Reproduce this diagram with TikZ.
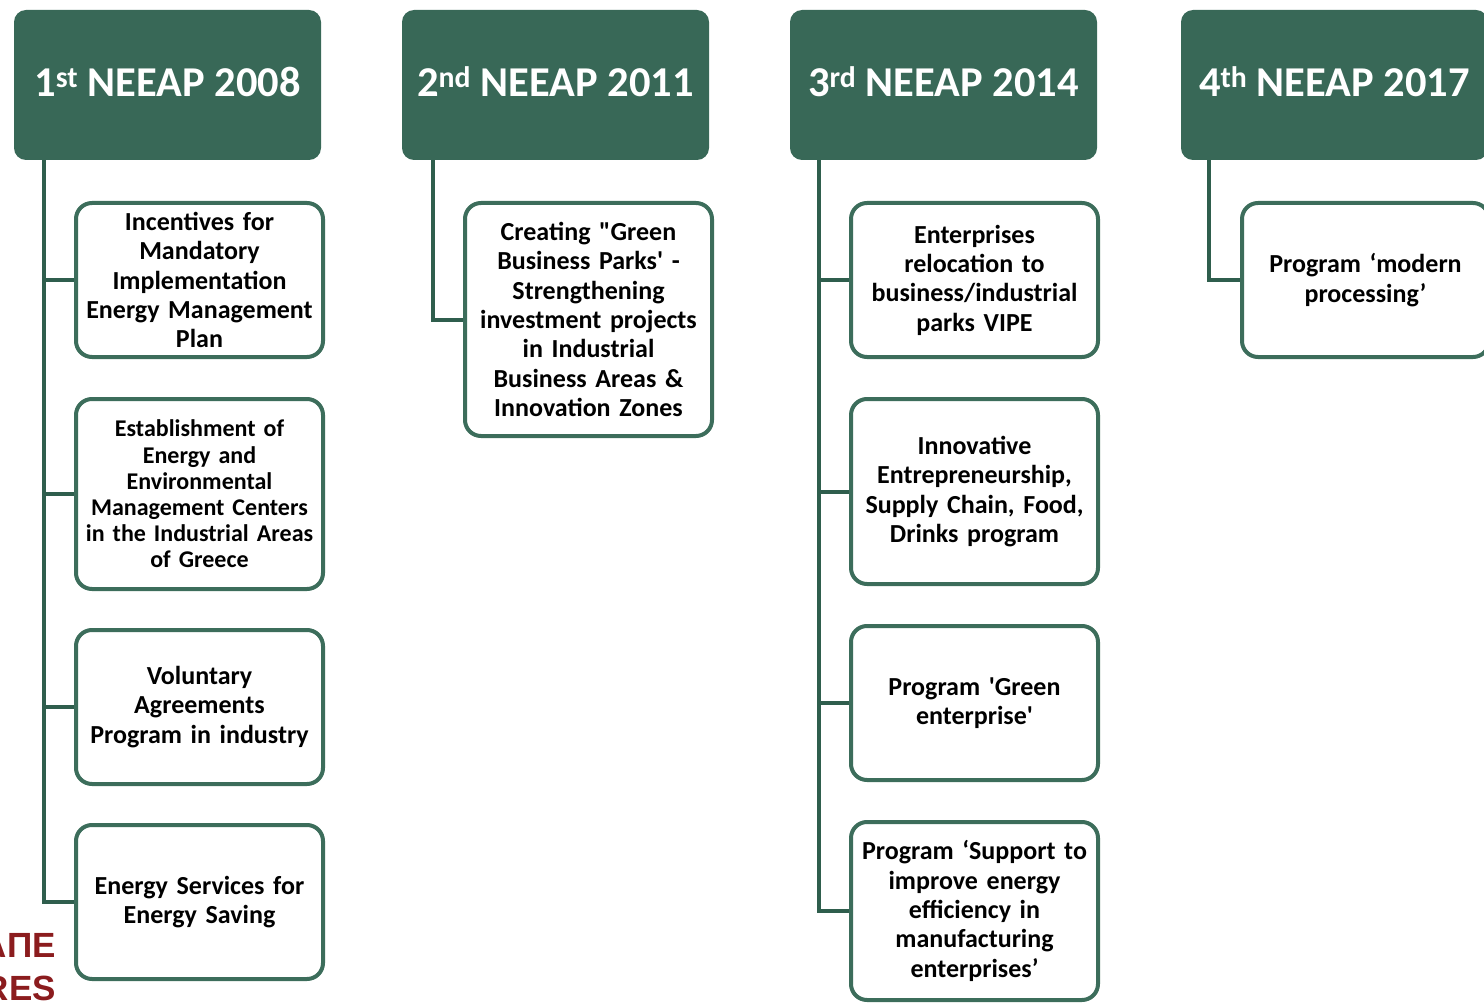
\documentclass[tikz,border=0pt]{standalone}
\usepackage{fontspec}
\setmainfont{Carlito}
\newfontfamily\redfont{Liberation Sans}
\definecolor{hdrfill}{HTML}{386857}
\definecolor{lnclr}{HTML}{2F5E4D}
\definecolor{bxclr}{HTML}{3C6D5B}
\definecolor{resred}{HTML}{8B1C1E}
\begin{document}
\begin{tikzpicture}[x=1pt,y=-1pt,
  hdr/.style={fill=hdrfill,draw=none,rounded corners=12pt,minimum width=307pt,minimum height=150pt,
    text=white,font=\fontsize{42.5}{50}\selectfont\bfseries,inner sep=0pt},
  item/.style={draw=bxclr,line width=4pt,fill=white,rounded corners=16pt,minimum width=247pt,
    text width=244pt,align=center,font=\fontsize{26}{29.3}\selectfont\bfseries,inner sep=0pt},
  small/.style={font=\fontsize{24}{26.2}\selectfont\bfseries},
  conn/.style={draw=lnclr,line width=4pt},
  red/.style={anchor=east,text=resred,font=\redfont\fontsize{35}{40}\selectfont\bfseries,inner sep=0pt}]
\useasboundingbox (0,0) rectangle (1484,1003);
% headers
\node[hdr,text depth=6pt] (h1) at (167.5,85) {1\textsuperscript{st} NEEAP 2008};
\node[hdr,text depth=6pt] (h2) at (555.5,85) {2\textsuperscript{nd} NEEAP 2011};
\node[hdr,text depth=6pt] (h3) at (943.5,85) {3\textsuperscript{rd} NEEAP 2014};
\node[hdr,text depth=6pt] (h4) at (1334.5,85) {4\textsuperscript{th} NEEAP 2017};
% column 1
\node[item,minimum height=154pt] (a1) at (199.5,280) {Incentives for\\Mandatory\\Implementation\\Energy Management\\Plan};
\node[item,small,minimum height=190pt] (a2) at (199.5,494) {Establishment of\\Energy and\\Environmental\\Management Centers\\in the Industrial Areas\\of Greece};
\node[item,minimum height=154pt] (a3) at (199.5,707) {Voluntary\\Agreements\\Program in industry};
\node[item,minimum height=154pt] (a4) at (199.5,902) {Energy Services for\\Energy Saving};
% column 2
\node[item,minimum height=233pt] (b1) at (588.5,319.5) {Creating \textquotedbl Green\\Business Parks\textquotesingle{} -\\Strengthening\\investment projects\\in Industrial\\Business Areas \&\\Innovation Zones};
% column 3
\node[item,minimum height=154pt] (c1) at (974.5,280) {Enterprises\\relocation to\\business/industrial\\parks VIPE};
\node[item,minimum height=185pt] (c2) at (974.5,491.5) {Innovative\\Entrepreneurship,\\Supply Chain, Food,\\Drinks program};
\node[item,minimum height=154pt] (c3) at (974.5,703) {Program \textquotesingle Green\\enterprise\textquotesingle};
\node[item,minimum height=178pt] (c4) at (974.5,911) {Program ‘Support to\\improve energy\\efficiency in\\manufacturing\\enterprises’};
% column 4
\node[item,minimum height=154pt] (d1) at (1365.5,280) {Program ‘modern\\processing’};
% connectors
\draw[conn] (h1.south -| 44,0) |- (a4.west);
\draw[conn] (44,0 |- a1.west) -- (a1.west);
\draw[conn] (44,0 |- a2.west) -- (a2.west);
\draw[conn] (44,0 |- a3.west) -- (a3.west);
\draw[conn] (h2.south -| 433,0) |- (b1.west);
\draw[conn] (h3.south -| 819,0) |- (c4.west);
\draw[conn] (819,0 |- c1.west) -- (c1.west);
\draw[conn] (819,0 |- c2.west) -- (c2.west);
\draw[conn] (819,0 |- c3.west) -- (c3.west);
\draw[conn] (h4.south -| 1209,0) |- (d1.west);
% red text
\node[red] (ape) at (56,945) {ΑΠΕ};
\node[red] (res) at (56,988) {RES};
\end{tikzpicture}
\end{document}
